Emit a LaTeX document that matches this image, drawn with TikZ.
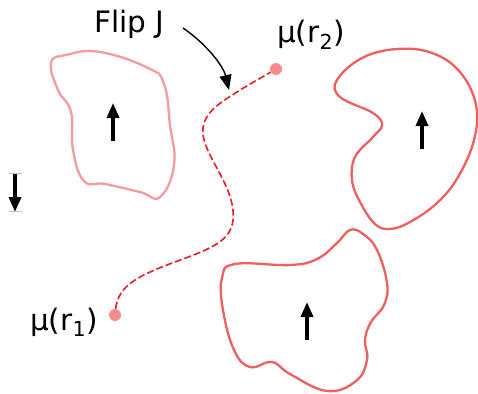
\documentclass[tikz,border=0pt]{standalone}
\usepackage{fontspec}
\setmainfont{DejaVu Sans}
\usetikzlibrary{arrows.meta}
\definecolor{blobpale}{RGB}{245,155,155}
\definecolor{blobred}{RGB}{240,95,95}
\definecolor{pathred}{RGB}{232,28,36}
\definecolor{dotpink}{RGB}{245,140,140}
\begin{document}
\begin{tikzpicture}[x=1pt,y=-1pt,
  blob/.style={line width=2.3pt},
  spin/.style={line width=3.4pt,-{Triangle[length=15pt,width=12pt]}},
  lbl/.style={font=\fontsize{29.5}{32}\selectfont,anchor=base west,inner sep=0pt},
  dotnode/.style={circle,fill=dotpink,minimum size=12pt,inner sep=0pt},
  flip/.style={line width=1.6pt,pathred,dash pattern=on 7pt off 3pt}]
\useasboundingbox (0,0) rectangle (478,393);
% blob 1 (pale)
\draw[blob,blobpale] plot[smooth cycle,tension=0.75] coordinates {
 (51,63) (66,55) (100,52) (148,68) (164,84) (170,125) (174,165) (160,197)
 (140,192) (105,184) (84,181) (73,150) (71,112) (58,90)};
% blob 2
\draw[blob,blobred] plot[smooth cycle,tension=0.65] coordinates {
 (397,49) (432,53) (460,72) (476,105) (474,140) (458,177) (437,203) (410,222)
 (390,229) (375,224) (360,202) (352,180) (355,157) (373,137) (382,125)
 (373,113) (340,97) (337,80) (362,58)};
% blob 3
\draw[blob,blobred] plot[smooth cycle,tension=0.7] coordinates {
 (350,230) (363,234) (377,250) (387,283) (384,305) (371,322) (365,340)
 (367,360) (356,381) (327,391) (290,374) (272,362) (250,367) (234,350)
 (223,310) (222,278) (235,264) (290,265) (317,259) (337,243)};
% spins
\coordinate (s1a) at (113,141); \coordinate (s1b) at (113,103);
\coordinate (s2a) at (422,149); \coordinate (s2b) at (422,111);
\coordinate (s3a) at (307,340); \coordinate (s3b) at (307,302);
\coordinate (s4a) at (15,174); \coordinate (s4b) at (15,212);
\draw[spin] (s1a) -- (s1b);
\draw[spin] (s2a) -- (s2b);
\draw[spin] (s3a) -- (s3b);
\draw[spin] (s4a) -- (s4b);
\draw[gray!50,line width=0.8pt] (9,173) -- (22,173) (9,211.5) -- (22,211.5);
% points
\node[dotnode] (r1) at (115,315) {};
\node[dotnode] (r2) at (276,69) {};
\draw[flip] (r1) .. controls (118,285) and (140,275) .. (175,262)
  .. controls (215,247) and (236,240) .. (233,210)
  .. controls (230,180) and (200,150) .. (203,128)
  .. controls (205,110) and (225,100) .. (240,90) -- (r2);
% labels
\node[lbl] (flipJ) at (94,33) {Flip J};
\node[lbl] (lr2) at (277,43) {μ(r\textsubscript{2})};
\node[lbl] (lr1) at (30,330) {μ(r\textsubscript{1})};
\coordinate (fj) at (183,28);
\coordinate (fjtip) at (229,90);
\draw[line width=1.4pt,-{Triangle[length=15pt,width=12pt]}] (fj) .. controls (205,43) and (223,65) .. (fjtip);
\end{tikzpicture}
\end{document}
